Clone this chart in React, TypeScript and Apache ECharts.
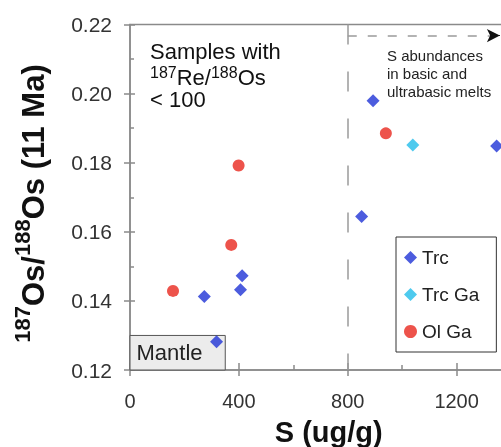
import React, { useEffect, useRef } from "react";
import * as echarts from "echarts";

// ---- data ----
const seriesNames = ["Trc", "Trc Ga", "Ol Ga"];
const trcS = [273, 318, 406, 412, 851, 893, 1347];
const trcOs = [0.1413, 0.1282, 0.1432, 0.1473, 0.1644, 0.1979, 0.1848];
const trcGaS = [1039];
const trcGaOs = [0.1851];
const olGaS = [158, 372, 399, 940];
const olGaOs = [0.1429, 0.1562, 0.1792, 0.1885];

// axes
const xMin = 0;
const xMax = 1600;
const xStep = 400;
const yMin = 0.12;
const yMax = 0.22;
const yStep = 0.02;

// annotations
const mantleMaxS = 350;
const mantleMaxOs = 0.13;
const meltS = 800;
const arrowOs = 0.2168;
const arrowEndS = 1359;

const FONT = "'Liberation Sans', Arial, Helvetica, sans-serif";
const AXIS = "#8a8a8a";

const zip = (xs: number[], ys: number[]) => xs.map((x, i) => [x, ys[i]]);

export default function App() {
  const ref = useRef<HTMLDivElement>(null);
  useEffect(() => {
    const chart = echarts.init(ref.current!, null, { renderer: "svg" });
    const axisLineStyle = { color: AXIS, width: 1.5 };
    chart.setOption({
      animation: false,
      textStyle: { fontFamily: FONT },
      grid: {
        left: 130,
        top: 24.5,
        right: 0.5,
        bottom: 77,
        show: true,
        borderColor: AXIS,
        borderWidth: 1.5,
        backgroundColor: "transparent",
      },
      xAxis: [
        {
          type: "value",
          min: xMin,
          max: xMax,
          interval: xStep,
          position: "bottom",
          axisLine: { show: true, onZero: false, lineStyle: axisLineStyle },
          axisTick: { show: true, length: 6, lineStyle: axisLineStyle },
          axisLabel: {
            margin: 21,
            fontSize: 20,
            color: "#333",
            fontFamily: FONT,
            showMaxLabel: false,
            formatter: (v: number) => String(v),
          },
          splitLine: { show: false },
        },
        {
          type: "value",
          min: xMin,
          max: xMax,
          interval: xStep,
          position: "bottom",
          axisLine: { show: false },
          axisTick: { show: true, inside: true, length: 7, lineStyle: axisLineStyle },
          minorTick: { show: true, splitNumber: 2, length: 5, lineStyle: axisLineStyle },
          axisLabel: { show: false },
          splitLine: { show: false },
        },
      ],
      yAxis: [
        {
          type: "value",
          min: yMin,
          max: yMax,
          interval: yStep,
          position: "left",
          axisLine: { show: true, onZero: false, lineStyle: axisLineStyle },
          axisTick: { show: true, length: 6, lineStyle: axisLineStyle },
          axisLabel: {
            margin: 18,
            fontSize: 21,
            color: "#333",
            fontFamily: FONT,
            formatter: (v: number) => v.toFixed(2),
          },
          splitLine: { show: false },
        },
        {
          type: "value",
          min: yMin,
          max: yMax,
          interval: yStep,
          position: "left",
          axisLine: { show: false },
          axisTick: { show: true, inside: true, length: 5, lineStyle: axisLineStyle },
          minorTick: { show: true, splitNumber: 2, length: 4, lineStyle: axisLineStyle },
          axisLabel: { show: false },
          splitLine: { show: false },
        },
      ],
      legend: {
        data: seriesNames,
        orient: "vertical",
        left: 396,
        top: 237,
        padding: [11, 17, 11, 8],
        itemGap: 18,
        itemWidth: 13,
        itemHeight: 13,
        borderColor: "#333",
        borderWidth: 1,
        backgroundColor: "#fff",
        textStyle: { fontSize: 19, color: "#222", fontFamily: FONT, lineHeight: 19 },
      },
      series: [
        {
          name: "annotations",
          type: "scatter",
          data: [],
          z: 1,
          silent: true,
          markArea: {
            silent: true,
            itemStyle: { color: "#ececec", borderColor: "#555", borderWidth: 1 },
            label: {
              show: true,
              position: "insideLeft",
              distance: 7,
              fontSize: 22,
              color: "#222",
              fontFamily: FONT,
            },
            data: [[{ name: "Mantle", coord: [xMin, yMin] }, { coord: [mantleMaxS, mantleMaxOs] }]],
          },
          markLine: {
            silent: true,
            symbol: ["none", "none"],
            label: { show: false },
            data: [
              [
                { coord: [meltS, yMax], lineStyle: { type: [20, 27], color: "#9a9a9a", width: 1.5 } },
                { coord: [meltS, yMin] },
              ],
              [
                { coord: [meltS, arrowOs], lineStyle: { type: [9, 11], color: "#9a9a9a", width: 1.5 } },
                { coord: [arrowEndS - 20, arrowOs] },
              ],
              [
                { coord: [arrowEndS - 25, arrowOs], symbol: "none", lineStyle: { type: "solid", color: "#111", width: 1 } },
                { coord: [arrowEndS, arrowOs], symbol: "arrow", symbolSize: [10, 13] },
              ],
            ],
          },
        },
        {
          name: "Trc",
          type: "scatter",
          symbol: "diamond",
          symbolSize: 13,
          itemStyle: { color: "#1f33d6" },
          data: zip(trcS, trcOs),
          z: 3,
        },
        {
          name: "Trc Ga",
          type: "scatter",
          symbol: "diamond",
          symbolSize: 13,
          itemStyle: { color: "#22bdea" },
          data: zip(trcGaS, trcGaOs),
          z: 3,
        },
        {
          name: "Ol Ga",
          type: "scatter",
          symbol: "circle",
          symbolSize: 12,
          itemStyle: { color: "#e8281e" },
          data: zip(olGaS, olGaOs),
          z: 3,
        },
      ],
      graphic: [
        {
          type: "text",
          x: 150,
          y: 51.5,
          style: {
            text: "Samples with",
            fontSize: 22,
            fontFamily: FONT,
            fill: "#111",
            align: "left",
            verticalAlign: "middle",
          },
        },
        {
          type: "text",
          x: 150,
          y: 66.75,
          style: {
            text: "{s|187}{m|Re/}{s|188}{m|Os}\n{m|< 100}",
            align: "left",
            verticalAlign: "top",
            fill: "#111",
            rich: {
              m: { fontSize: 22, fontFamily: FONT, lineHeight: 21.5, fill: "#111" },
              s: { fontSize: 16, fontFamily: FONT, lineHeight: 8, padding: [0, 0, 11, 0], fill: "#111" },
            },
          },
        },
        {
          type: "text",
          x: 387,
          y: 46,
          style: {
            text: "S abundances\nin basic and\nultrabasic melts",
            fontSize: 15,
            fontFamily: FONT,
            lineHeight: 18.3,
            fill: "#222",
            align: "left",
            verticalAlign: "top",
          },
        },
        {
          type: "text",
          x: 33.6,
          y: 203.5,
          rotation: Math.PI / 2,
          style: {
            text: "{s|187}{m|Os/}{s|188}{m|Os (11 Ma)}",
            align: "center",
            verticalAlign: "middle",
            fill: "#111",
            rich: {
              m: { fontSize: 31, fontWeight: "bold", fontFamily: FONT, lineHeight: 34, fill: "#111" },
              s: {
                fontSize: 22,
                fontWeight: "bold",
                fontFamily: FONT,
                lineHeight: 12,
                padding: [0, 0, 22, 0],
                fill: "#111",
              },
            },
          },
        },
        {
          type: "text",
          x: 328.7,
          y: 432,
          style: {
            text: "S (ug/g)",
            fontSize: 29,
            fontWeight: "bold",
            fontFamily: FONT,
            fill: "#111",
            align: "center",
            verticalAlign: "middle",
          },
        },
      ],
    });
    return () => chart.dispose();
  }, []);
  return (
    <div
      ref={ref}
      style={{ position: "fixed", left: 0, top: 0, width: 566, height: 447 }}
    />
  );
}
